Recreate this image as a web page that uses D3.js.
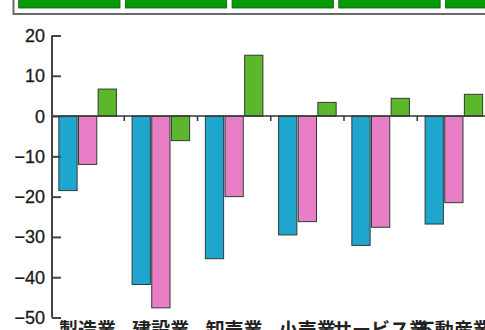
<!DOCTYPE html>
<html>
<head>
<meta charset="utf-8">
<script src="https://cdn.jsdelivr.net/npm/d3@7/dist/d3.min.js"></script>
<style>
  html, body { margin: 0; padding: 0; background: #fff; }
  svg { display: block; }
</style>
</head>
<body>
<svg id="chart" width="485" height="330"></svg>
<script>
// Industries along the x axis
const categories = ["製造業", "建設業", "卸売業", "小売業", "サービス業", "不動産業"];
// Three series per industry (blue, pink, green)
const seriesKeys = ["s1", "s2", "s3"];
const seriesBlue  = [-18.5, -41.8, -35.4, -29.5, -32.1, -26.8];
const seriesPink  = [-12.0, -47.6, -20.0, -26.2, -27.6, -21.5];
const seriesGreen = [  6.7,  -6.1,  15.1,   3.4,   4.4,   5.4];
const seriesColors = ["#1fa6cf", "#e87fc6", "#5db72c"];
const yTicks = [20, 10, 0, -10, -20, -30, -40, -50];
// Header strip cells above the plot
const headerCells = [0, 1, 2, 3, 4];

const svg = d3.select("#chart");

const rows = categories.map((c, i) => ({
  cat: c,
  values: [seriesBlue[i], seriesPink[i], seriesGreen[i]]
}));

// Header strip
const hx = d3.scaleBand().domain(headerCells).range([16.5, 549]).paddingInner(0.05).paddingOuter(0.02);
svg.append("rect")
  .attr("x", 13.5).attr("y", -10).attr("width", 500).attr("height", 24)
  .attr("fill", "#fff").attr("stroke", "#6a6a6a").attr("stroke-width", 2);
svg.append("g").selectAll("rect").data(headerCells).join("rect")
  .attr("x", d => hx(d)).attr("y", -5)
  .attr("width", hx.bandwidth()).attr("height", 13)
  .attr("fill", "#079a07").attr("stroke", "#0b5e0b").attr("stroke-width", 0.8);

// Scales
const y = d3.scaleLinear().domain([-50, 20]).range([317.5, 35.5]);
const x0 = d3.scaleBand().domain(categories).range([51, 490.5]).padding(0);
const x1 = d3.scaleBand().domain(seriesKeys).range([0, x0.bandwidth()])
  .paddingInner(0.07).paddingOuter(0.4);

// Bars
const groups = svg.append("g").selectAll("g").data(rows).join("g")
  .attr("transform", d => `translate(${x0(d.cat)},0)`);
groups.selectAll("rect")
  .data(d => d.values.map((v, k) => ({ key: seriesKeys[k], v, k })))
  .join("rect")
  .attr("x", d => x1(d.key))
  .attr("width", x1.bandwidth())
  .attr("y", d => y(Math.max(0, d.v)))
  .attr("height", d => Math.abs(y(d.v) - y(0)))
  .attr("fill", d => seriesColors[d.k])
  .attr("stroke", "#2f3a33")
  .attr("stroke-width", 1);

// Zero line with category separators
svg.append("line")
  .attr("x1", 52).attr("x2", 485)
  .attr("y1", y(0)).attr("y2", y(0))
  .attr("stroke", "#333").attr("stroke-width", 1.5);
svg.append("g").selectAll("line").data(categories.slice(1)).join("line")
  .attr("x1", d => x0(d)).attr("x2", d => x0(d))
  .attr("y1", y(0)).attr("y2", y(0) + 5)
  .attr("stroke", "#333").attr("stroke-width", 1.5);

// Y axis
const yAxis = d3.axisRight(y).tickValues(yTicks).tickSize(9).tickFormat("");
const ya = svg.append("g").attr("transform", "translate(52,0)").call(yAxis);
ya.select(".domain").attr("stroke", "#444").attr("stroke-width", 2)
  .attr("d", `M0,${y(20)}V${y(-50)}`);
ya.selectAll(".tick line").attr("stroke", "#444").attr("stroke-width", 2);

svg.append("g").selectAll("text").data(yTicks).join("text")
  .attr("x", 45).attr("y", d => y(d)).attr("dy", "0.36em")
  .attr("text-anchor", "end")
  .attr("font-family", "'Liberation Sans', Arial, sans-serif")
  .attr("font-size", 18)
  .attr("fill", "#1a1a1a")
  .attr("stroke", "#1a1a1a").attr("stroke-width", 0.3)
  .text(d => d < 0 ? "\u2212" + Math.abs(d) : d);

// Category labels
svg.append("g").selectAll("text").data(categories).join("text")
  .attr("x", d => x0(d) + x0.bandwidth() / 2)
  .attr("y", 337)
  .attr("text-anchor", "middle")
  .attr("font-family", "'Noto Sans CJK JP', sans-serif")
  .attr("font-size", 19)
  .attr("font-weight", 700)
  .attr("fill", "#222")
  .text(d => d);
</script>
</body>
</html>
